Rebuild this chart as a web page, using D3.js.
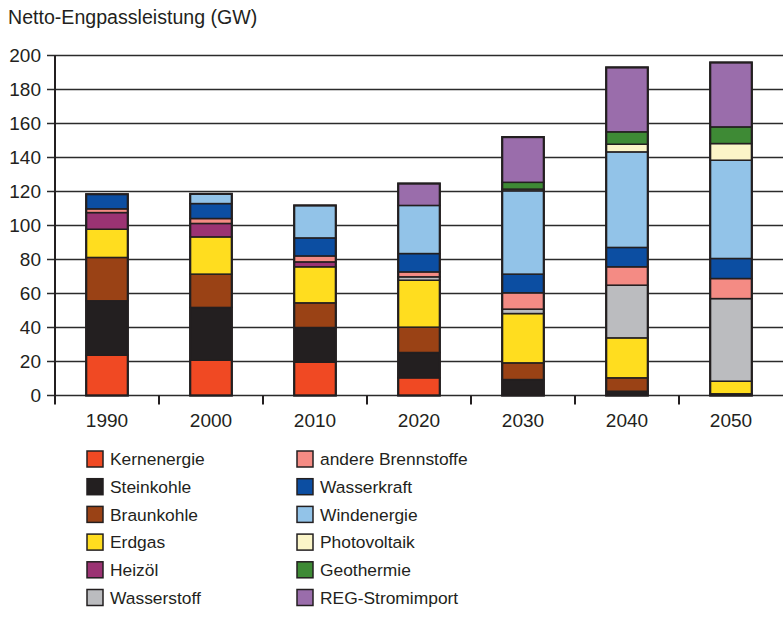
<!DOCTYPE html>
<html>
<head>
<meta charset="utf-8">
<script src="https://cdn.jsdelivr.net/npm/d3@7"></script>
<style>
  body { margin: 0; background: #fff; }
  text { font-family: "Liberation Sans", Arial, sans-serif; fill: #231f20; }
</style>
</head>
<body>
<div id="chart"></div>
<script>
// data (GW)
const years = ["1990", "2000", "2010", "2020", "2030", "2040", "2050"];
const kernenergie = [23.7, 20.8, 19.6, 10.4, 0, 0, 0];
const steinkohle = [32, 31, 20.4, 14.9, 9.4, 2.5, 1];
const braunkohle = [25.5, 19.6, 14.5, 14.9, 9.8, 7.9, 0];
const erdgas = [16.6, 21.9, 21.2, 27.6, 29, 23.5, 7.4];
const heizoel = [9.8, 7.9, 2.9, 0, 0, 0, 0];
const wasserstoff = [0, 0, 0, 2, 2.6, 31, 48.6];
const andere = [2.2, 2.9, 3.5, 2.9, 9.6, 10.8, 11.8];
const wasserkraft = [8.6, 8.8, 10.6, 10.8, 11, 11.4, 11.8];
const windenergie = [0, 5.7, 19.1, 28.3, 49, 56.2, 57.8];
const photovoltaik = [0, 0, 0, 0, 1, 4.5, 9.8];
const geothermie = [0, 0, 0, 0, 4, 7.3, 9.8];
const regImport = [0, 0, 0, 12.9, 26.6, 37.9, 37.9];
const yTicks = [0, 20, 40, 60, 80, 100, 120, 140, 160, 180, 200];

const series = [
  { key: "Kernenergie", values: kernenergie, color: "#f04923" },
  { key: "Steinkohle", values: steinkohle, color: "#231f20" },
  { key: "Braunkohle", values: braunkohle, color: "#9a4215" },
  { key: "Erdgas", values: erdgas, color: "#ffdd1f" },
  { key: "Heizöl", values: heizoel, color: "#9b3373" },
  { key: "Wasserstoff", values: wasserstoff, color: "#bbbcbf" },
  { key: "andere Brennstoffe", values: andere, color: "#f48b84" },
  { key: "Wasserkraft", values: wasserkraft, color: "#0c4ea2" },
  { key: "Windenergie", values: windenergie, color: "#92c3e8" },
  { key: "Photovoltaik", values: photovoltaik, color: "#fbf5c8" },
  { key: "Geothermie", values: geothermie, color: "#3e8a35" },
  { key: "REG-Stromimport", values: regImport, color: "#9a6dab" },
];

const [W, H] = [783, 622];
const ink = "#231f20";
const svg = d3.select("#chart").append("svg")
  .attr("width", W).attr("height", H);

// rows for d3.stack
const table = years.map((y, i) => {
  const row = { year: y };
  series.forEach((s) => (row[s.key] = s.values[i]));
  return row;
});
const stacked = d3.stack().keys(series.map((s) => s.key))(table);

const x = d3.scaleBand().domain(years).range([55, 783]).paddingInner(0.6).paddingOuter(0.3);
const y = d3.scaleLinear().domain([0, 200]).range([395.5, 55.5]);

// title
svg.append("text").attr("x", 8).attr("y", 24)
  .style("font-size", "19.6px").text("Netto-Engpassleistung (GW)");

// gridlines + y ticks
svg.append("g").selectAll("line").data(yTicks).join("line")
  .attr("x1", 47).attr("x2", W)
  .attr("y1", (d) => y(d)).attr("y2", (d) => y(d))
  .attr("stroke", "#2b2b2b").attr("stroke-width", 1.6);

svg.append("g").selectAll("text").data(yTicks).join("text")
  .attr("x", 41).attr("y", (d) => y(d)).attr("dy", "0.36em")
  .attr("text-anchor", "end").style("font-size", "19px")
  .text((d) => d);

// y axis line
svg.append("line").attr("x1", 55).attr("x2", 55)
  .attr("y1", y(200)).attr("y2", y(0) + 9)
  .attr("stroke", ink).attr("stroke-width", 2);

// x ticks at band edges
const step = x.step();
const edges = years.map((d) => x(d) - (step - x.bandwidth()) / 2).concat([W]);
svg.append("g").selectAll("line").data(edges.slice(1, 7)).join("line")
  .attr("x1", (d) => d).attr("x2", (d) => d)
  .attr("y1", y(0)).attr("y2", y(0) + 9)
  .attr("stroke", ink).attr("stroke-width", 2);

svg.append("g").selectAll("text").data(years).join("text")
  .attr("x", (d) => x(d) + x.bandwidth() / 2).attr("y", 427)
  .attr("text-anchor", "middle").style("font-size", "19px")
  .text((d) => d);

// stacked bars
const colorOf = Object.fromEntries(series.map((s) => [s.key, s.color]));
stacked.forEach((layer) => {
  svg.append("g").selectAll("rect")
    .data(layer.filter((d) => d[1] - d[0] > 0))
    .join("rect")
    .attr("x", (d) => x(d.data.year))
    .attr("width", x.bandwidth())
    .attr("y", (d) => y(d[1]))
    .attr("height", (d) => y(d[0]) - y(d[1]))
    .attr("fill", colorOf[layer.key])
    .attr("stroke", ink).attr("stroke-width", 1.5);
});

// outer outline of each bar
const totals = table.map((r) => d3.sum(series, (s) => r[s.key]));
svg.append("g").selectAll("rect").data(years).join("rect")
  .attr("x", (d) => x(d)).attr("width", x.bandwidth())
  .attr("y", (d, i) => y(totals[i]))
  .attr("height", (d, i) => y(0) - y(totals[i]))
  .attr("fill", "none").attr("stroke", ink).attr("stroke-width", 2.2);

// legend, two columns of six
const legend = svg.append("g");
series.forEach((s, i) => {
  const col = Math.floor(i / 6), row = i % 6;
  const g = legend.append("g")
    .attr("transform", `translate(${87 + col * 210}, ${459 + row * 27.7})`);
  g.append("rect").attr("x", 0).attr("y", -8).attr("width", 16).attr("height", 16)
    .attr("fill", s.color).attr("stroke", ink).attr("stroke-width", 1.5);
  g.append("text").attr("x", 23).attr("y", 0).attr("dy", "0.36em")
    .style("font-size", "17.4px").text(s.key);
});
</script>
</body>
</html>
